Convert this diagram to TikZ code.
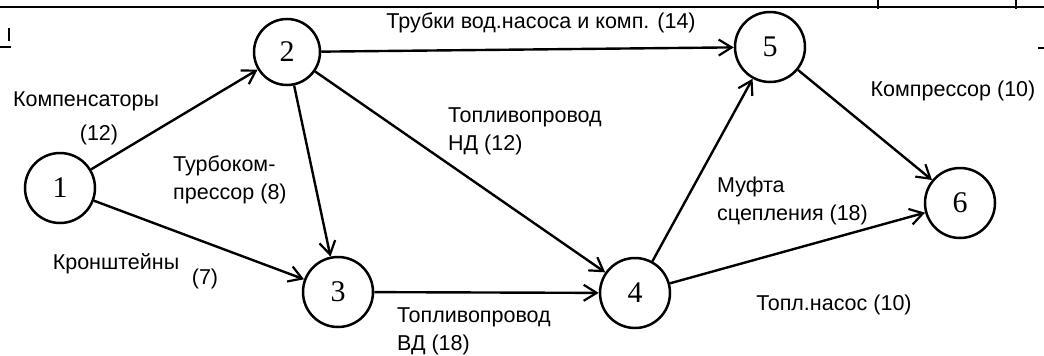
\documentclass[tikz,border=0pt]{standalone}
\usepackage{fontspec}
\setmainfont{Liberation Sans}
\newfontfamily\numfont{Liberation Serif}
\usepackage{tikz}
\usetikzlibrary{shapes, arrows.meta, positioning}
\tikzstyle{cnode} = [circle, draw, line width = 2.5pt, minimum size = 70pt, inner sep = 0pt, font = \numfont\fontsize{30}{32}\selectfont]
\tikzstyle{lbl} = [inner sep = 0pt, align = left, font = \fontsize{21.5}{28}\selectfont]
\tikzstyle{line} = [draw, line width = 2.4pt, -{Straight Barb[length = 13pt, width = 16pt, line width = 2.2pt]}]
\tikzstyle{frame} = [draw, line width = 1.8pt]

\begin{document}
\begin{tikzpicture}[x = 1pt, y = -1pt]
			\useasboundingbox (0, 0) rectangle (1044, 356);
			% scan remains at the top edge
			\path [frame] (0, 7) -- (1044, 7);
			\path [frame] (878, 0) -- (878, 9);
			\path [frame] (1016, 0) -- (1016, 9);
			\path [frame] (0, 47) -- (11, 47);
			\path [frame, line width = 2.5pt] (9, 28) -- (9, 41);
			\path [frame] (1038, 48) -- (1044, 48);

			\node [cnode] (1) at (60, 188) {1};
			\node [cnode, minimum size = 66pt] (2) at (287, 52) {2};
			\node [cnode] (3) at (338, 292) {3};
			\node [cnode] (4) at (635, 293) {4};
			\node [cnode] (5) at (770, 47) {5};
			\node [cnode] (6) at (960, 203) {6};

			\path [line] (1) -- (2);
			\path [line] (1) -- (3);
			\path [line] (2) -- (3);
			\path [line] (2) -- (4);
			\path [line] (2) -- (5);
			\path [line] (3) -- (4);
			\path [line] (4) -- (5);
			\path [line] (4) -- (6);
			\path [line] (5) -- (6);

			\node [lbl] (kmp) at (86, 101) {Компенсаторы};
			\node [lbl] (kmp12) at (99, 135) {(12)};
			\node [lbl, anchor = west] (trb) at (173, 180) {Турбоком-\\прессор (8)};
			\node [lbl] (krn) at (116, 264) {Кронштейны};
			\node [lbl] (krn7) at (205, 279) {(7)};
			\node [lbl] (trv) at (541, 23) {Трубки вод.насоса и комп. (14)};
			\node [lbl, anchor = west] (tnd) at (448, 131) {Топливопровод\\НД (12)};
			\node [lbl] (kpr) at (953, 91) {Компрессор (10)};
			\node [lbl, anchor = west] (mft) at (717, 201) {Муфта\\сцепления (18)};
			\node [lbl, anchor = west] (tvd) at (397, 331) {Топливопровод\\ВД (18)};
			\node [lbl] (tns) at (834, 305) {Топл.насос (10)};
		\end{tikzpicture}
\end{document}
